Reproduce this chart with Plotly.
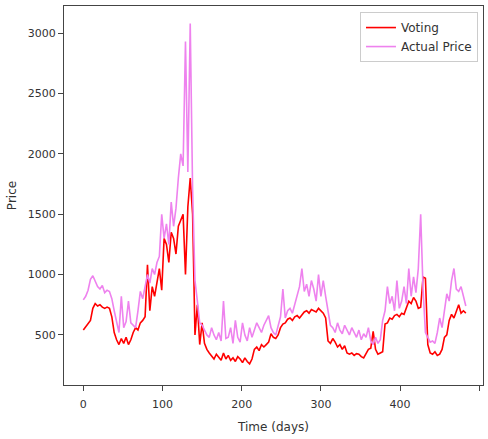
import plotly.graph_objects as go

# Sampled every 3 days (day index)
days = list(range(0, 484, 3))

voting = [
    540, 570, 590, 620, 720, 760, 740, 750, 730, 720, 730,
    720, 650, 520, 460, 420, 470, 430, 480, 420, 460,
    520, 560, 540, 600, 620, 650, 1080, 700, 900, 820,
    950, 1050, 870, 1300, 1250, 1100, 1350, 1300, 1170, 1400,
    1450, 1500, 1000, 1560, 1800, 1500, 500, 750, 420, 600,
    430, 380, 350, 320, 300, 340, 310, 290, 350, 300,
    330, 290, 310, 280, 320, 300, 270, 310, 280, 260,
    300, 380, 400, 370, 420, 400, 420, 440, 510, 480,
    470, 500, 560, 590, 600, 630, 640, 620, 650, 660,
    640, 670, 690, 700, 680, 710, 700, 690, 720, 700,
    680, 640, 450, 430, 470, 440, 400, 420, 380, 410,
    350, 340, 350, 330, 345, 340, 320, 310, 340, 380,
    390, 530, 380, 340, 350, 360, 590, 600, 640, 630,
    660, 670, 650, 680, 670, 720, 780, 760, 810, 780,
    720, 730, 980, 970, 420, 350, 340, 360, 330, 340,
    380, 480, 500, 620, 670, 640, 700, 750, 680, 700,
    680,
]

actual = [
    790, 820, 870, 960, 990, 940, 900, 880, 910, 850, 870,
    860, 800, 700, 600, 520, 820, 560, 610, 780, 600,
    580, 560, 700, 860, 800, 900, 1000, 930, 1050, 1000,
    1100, 1150, 1500, 1300, 1420, 1250, 1600, 1400, 1550, 1800,
    2000, 1900, 2930, 1850, 3080, 1700, 950, 780, 600, 580,
    540, 500, 480, 560, 500, 460, 520, 450, 780, 470,
    480, 560, 430, 620, 480, 440, 600, 500, 450, 560,
    480, 540, 600, 560, 520, 580, 620, 660, 560, 520,
    500, 580, 650, 880, 640, 700, 720, 680, 760, 820,
    900, 1050, 860, 920, 820, 950, 880, 780, 1000, 820,
    950, 820, 680, 580, 560, 520, 600, 540, 510, 580,
    540, 500, 560, 520, 480, 540, 460, 510, 480, 560,
    450, 420, 480, 430, 460, 620, 700, 900, 760, 820,
    700, 950, 720, 780, 900, 760, 1050, 820, 980, 850,
    1050, 1500, 880, 520, 480, 440, 450, 430, 520, 640,
    560, 700, 840, 780, 950, 1050, 880, 860, 900, 820,
    740,
]

x_ticks = [0, 100, 200, 300, 400, 500]
y_ticks = [500, 1000, 1500, 2000, 2500, 3000]

fig = go.Figure()
fig.add_trace(go.Scatter(x=days, y=voting, mode="lines", name="Voting",
                         line=dict(color="red", width=1.6)))
fig.add_trace(go.Scatter(x=days, y=actual, mode="lines", name="Actual Price",
                         line=dict(color="violet", width=1.6)))

axis_common = dict(
    showgrid=False, zeroline=False, showline=True, mirror=True,
    linecolor="#444", linewidth=1.2, ticks="outside", ticklen=5,
    tickcolor="#444", tickfont=dict(family="DejaVu Sans", size=11, color="#333"),
)

fig.update_layout(
    width=488, height=439,
    margin=dict(l=64, r=5, t=6, b=54),
    paper_bgcolor="white", plot_bgcolor="white",
    font=dict(family="DejaVu Sans", color="#333"),
    xaxis=dict(range=[-24.4, 504.7], tickvals=x_ticks, ticklabelstandoff=4,
               title=dict(text="Time (days)", font=dict(size=12), standoff=12),
               **axis_common),
    yaxis=dict(range=[85, 3225], tickvals=y_ticks,
               title=dict(text="Price", font=dict(size=12), standoff=8),
               **axis_common),
    legend=dict(x=0.988, y=0.984, xanchor="right", yanchor="top",
                bgcolor="white", bordercolor="#ccc", borderwidth=1,
                font=dict(family="DejaVu Sans", size=12, color="#333"),
                itemwidth=30),
    showlegend=True,
)

fig.write_html("out.html")
